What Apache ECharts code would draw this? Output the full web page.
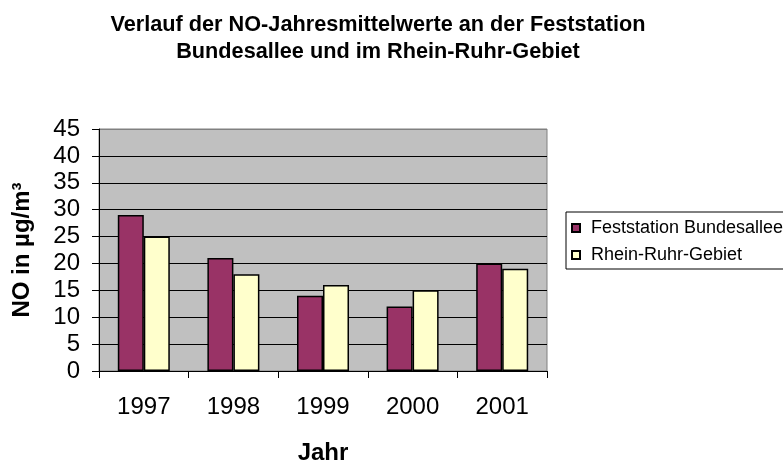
<!DOCTYPE html>
<html>
<head>
<meta charset="utf-8">
<script src="https://cdn.jsdelivr.net/npm/echarts@6/dist/echarts.min.js"></script>
<style>
  html, body { margin: 0; padding: 0; background: #fff; }
  #chart { width: 783px; height: 464px; }
</style>
</head>
<body>
<div id="chart"></div>
<script>
// Daten
const years = ['1997', '1998', '1999', '2000', '2001'];
const feststation = [29, 21, 14, 12, 20];
const rheinRuhr = [25, 18, 16, 15, 19];
const seriesNames = ['Feststation Bundesallee', 'Rhein-Ruhr-Gebiet'];

const font = '"Liberation Sans", Arial, sans-serif';

let chart = echarts.init(document.getElementById('chart'));

// Gitterlinien schwarz, oberste Linie = grauer Rahmen
let gridLineColors = ['#000', '#000', '#000', '#000', '#000', '#000', '#000', '#000', '#000', '#808080'];

let option = {
    animation: false,
    textStyle: { fontFamily: font, color: '#000' },
    title: {
        text: 'Verlauf der NO-Jahresmittelwerte an der Feststation\nBundesallee und im Rhein-Ruhr-Gebiet',
        left: 373,
        top: 7,
        textAlign: 'center',
        textStyle: { fontFamily: font, fontSize: 21.7, fontWeight: 'bold', color: '#000', lineHeight: 27 }
    },
    grid: {
        left: 99,
        top: 129,
        width: 448,
        height: 242,
        outerBoundsMode: 'none',
        containLabel: false,
        show: true,
        backgroundColor: '#C0C0C0',
        borderColor: '#808080',
        borderWidth: 1
    },
    legend: {
        orient: 'vertical',
        left: 566,
        top: 212,
        icon: 'rect',
        itemWidth: 8,
        itemHeight: 8,
        itemGap: 9,
        padding: [7, 40, 5, 5],
        borderColor: '#000',
        borderWidth: 1,
        textStyle: { fontFamily: font, fontSize: 18, color: '#000', padding: [0, 0, 0, 6] },
        data: seriesNames
    },
    xAxis: {
        type: 'category',
        data: years,
        name: 'Jahr',
        nameLocation: 'middle',
        nameGap: 70,
        nameTextStyle: { fontFamily: font, fontSize: 24, fontWeight: 'bold', color: '#000' },
        axisLine: { lineStyle: { color: '#000', width: 1 } },
        axisTick: { show: true, alignWithLabel: false, length: 7, lineStyle: { color: '#000' } },
        axisLabel: { fontFamily: font, fontSize: 24, color: '#000', margin: 24 }
    },
    yAxis: {
        type: 'value',
        min: 0,
        max: 45,
        interval: 5,
        name: 'NO in µg/m³',
        nameLocation: 'middle',
        nameGap: 65,
        nameTextStyle: { fontFamily: font, fontSize: 24, fontWeight: 'bold', color: '#000' },
        axisLine: { show: true, lineStyle: { color: '#000', width: 1 } },
        axisTick: { show: true, length: 7, lineStyle: { color: '#000' } },
        axisLabel: { fontFamily: font, fontSize: 24, color: '#000', margin: 19 },
        splitLine: { show: true, lineStyle: { color: gridLineColors, width: 1 } }
    },
    series: [{
        name: seriesNames[0],
        type: 'bar',
        data: feststation,
        barWidth: 26,
        barGap: '0%',
        itemStyle: { color: '#993366', borderColor: '#000', borderWidth: 1.5 }
    }, {
        name: seriesNames[1],
        type: 'bar',
        data: rheinRuhr,
        barWidth: 26,
        barGap: '0%',
        itemStyle: { color: '#FFFFCC', borderColor: '#000', borderWidth: 1.5 }
    }]
};

chart.setOption(option);
</script>
</body>
</html>
